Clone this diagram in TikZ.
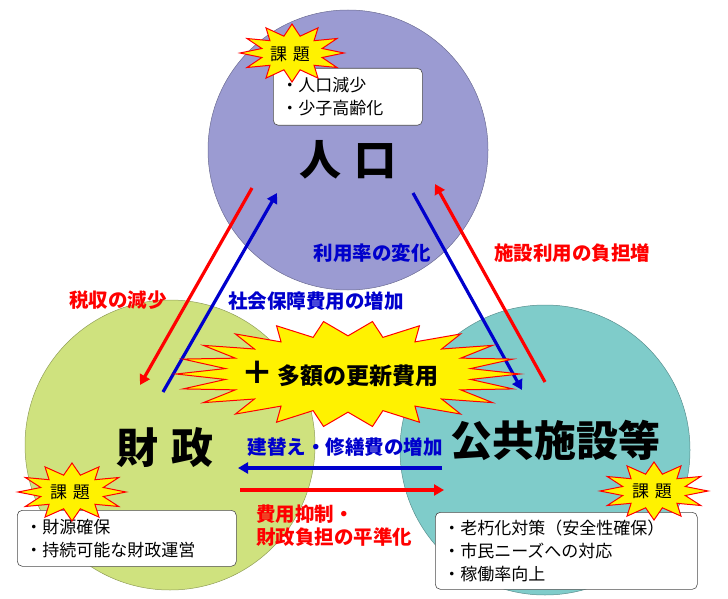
\documentclass[tikz,border=0pt]{standalone}
\usepackage{fontspec}
\newfontfamily\cjk{Noto Sans CJK JP}
\usetikzlibrary{arrows.meta}
\definecolor{cpur}{HTML}{9B9BD2}
\definecolor{cgrn}{HTML}{CFE27E}
\definecolor{cteal}{HTML}{7FCCCA}
\definecolor{cred}{HTML}{FF0000}
\definecolor{cblue}{HTML}{0000CC}
\tikzset{
 arr/.style={line width=3.2pt,-{Triangle[length=10pt,width=11pt]}},
 lab/.style={font=\cjk\bfseries\fontsize{19.5}{23}\selectfont},
 big/.style={font=\cjk\bfseries\fontsize{42}{44}\selectfont},
 tbox/.style={draw=black!70,fill=white,rounded corners=5pt,line width=0.6pt,align=left,inner xsep=8pt,inner ysep=5pt,font=\cjk\fontsize{17}{23}\selectfont},
 burst/.style={draw=cred,fill=yellow,line width=1pt},
 kdai/.style={font=\cjk\fontsize{17}{18}\selectfont},
}
\newcommand{\myburst}[6]{% x y rx ry n inner
 \draw[burst] ({#1+#3},#2) \foreach \i [evaluate=\i as \r using {mod(\i,2)==0?1:#6}] in {1,...,#5} { -- ({#1+\r*#3*cos(\i*360/#5)},{#2+\r*#4*sin(\i*360/#5)}) } -- cycle;}
\begin{document}
\begin{tikzpicture}[x=1pt,y=-1pt]
\useasboundingbox (0,0) rectangle (728,599);
\fill[cpur] (348,150) circle (140);
\fill[cgrn] (170,445) circle (145);
\fill[cteal] (545,450) circle (145);
\draw[cpur!70!black,line width=0.5pt] (348,150) circle (140);
\draw[cgrn!70!black,line width=0.5pt] (170,445) circle (145);
\draw[cteal!70!black,line width=0.5pt] (545,450) circle (145);
% top box
\node[tbox,text width=133pt,minimum height=57pt,anchor=north west] (bt) at (273,68) {・人口減少\\・少子高齢化};
\myburst{292}{53}{52}{29}{24}{0.6}
\node[kdai] (kt) at (290,54) {課\,\,題};
% left box
\node[tbox,text width=203pt,minimum height=56pt,anchor=north west] (bl) at (17,510) {・財源確保\\・持続可能な財政運営};
\myburst{72}{492}{54}{29}{24}{0.6}
\node[kdai] (kl) at (70,492) {課\,\,題};
% right box
\node[tbox,text width=246pt,minimum height=77pt,anchor=north west] (br) at (435,512) {・老朽化対策（安全性確保）\\・市民ニーズへの対応\\・稼働率向上};
\myburst{654}{491}{54}{29}{24}{0.6}
\node[kdai] (kr) at (652,491) {課\,\,題};
% big labels
\node[big] (jin) at (348,160) {人\,\,口};
\node[big] (zai) at (165,448) {財\,\,政};
\node[big] (kou) at (555,440) {公共施設等};
% arrows
\coordinate (a1) at (252,188); \coordinate (a2) at (140,385);
\coordinate (b1) at (163,392); \coordinate (b2) at (277,193);
\coordinate (c1) at (413,193); \coordinate (c2) at (522,390);
\coordinate (d1) at (545,382); \coordinate (d2) at (435,184);
\coordinate (e1) at (442,468); \coordinate (e2) at (238,468);
\coordinate (f1) at (240,490); \coordinate (f2) at (444,490);
\draw[arr,cred] (a1) -- (a2);
\draw[arr,cblue] (b1) -- (b2);
\draw[arr,cblue] (c1) -- (c2);
\draw[arr,cred] (d1) -- (d2);
\draw[arr,cblue] (e1) -- (e2);
\draw[arr,cred] (f1) -- (f2);
% center burst
\myburst{348}{374}{172}{53}{44}{0.72}
\node[font=\cjk\bfseries\fontsize{23}{24}\selectfont] (cb) at (340,374) {{\fontsize{32}{32}\selectfont ＋}\,多額の更新費用};
% labels
\node[lab,text=cred] (l1) at (118,300) {税収の減少};
\node[lab,text=cblue] (l2) at (316,301) {社会保障費用の増加};
\node[lab,text=cblue] (l3) at (372,253) {利用率の変化};
\node[lab,text=cred] (l4) at (572,253) {施設利用の負担増};
\node[lab,text=cblue] (l5) at (345,447) {建替え・修繕費の増加};
\node[lab,text=cred,align=left] (l6) at (334,526) {費用抑制・\\財政負担の平準化};
\end{tikzpicture}
\end{document}
